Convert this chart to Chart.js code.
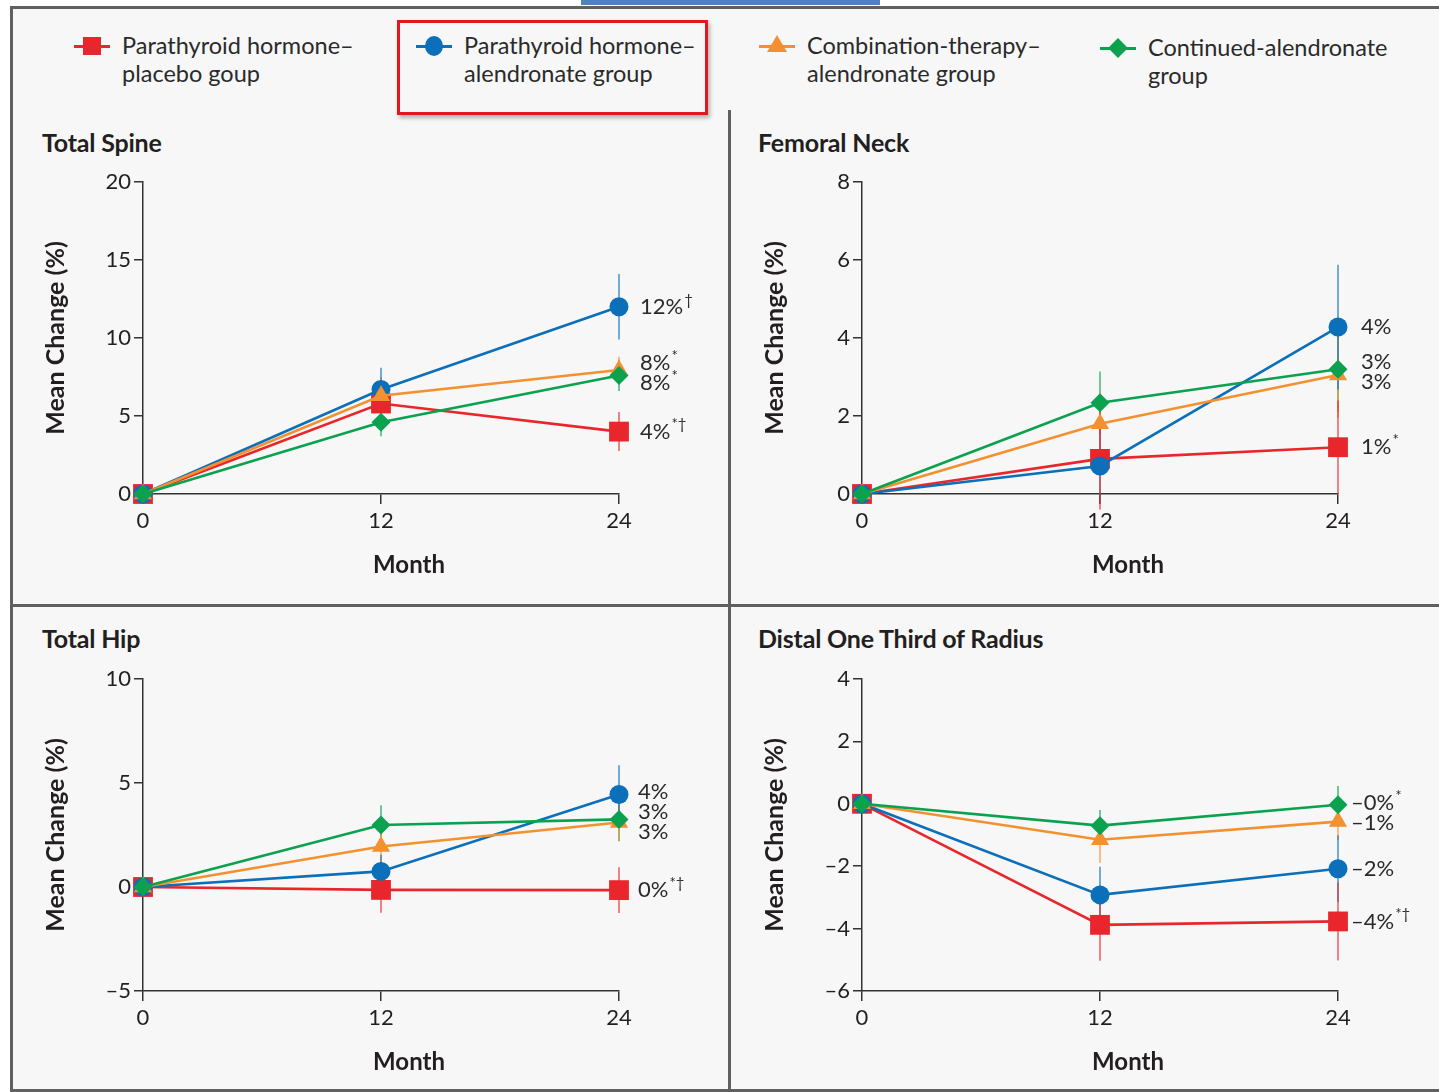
<!DOCTYPE html>
<html>
<head>
<meta charset="utf-8">
<script src="https://cdn.jsdelivr.net/npm/chart.js@4.4.1/dist/chart.umd.min.js"></script>
<style>
  html, body { margin: 0; padding: 0; background: #ffffff; overflow: hidden; }
  #page { position: relative; width: 1439px; height: 1092px; background: #ffffff;
          font-family: Lato, "Noto Sans", sans-serif; color: #231f20; }
  .abs { position: absolute; }
  #sheet { left: 10px; top: 6px; width: 1429px; height: 1086px; background: #f7f7f7; }
  .rule { position: absolute; background: #606060; }
  .legend-item { position: absolute; font-size: 23.5px; line-height: 28px; color: #2a2a2a; white-space: nowrap; }
  .mk-line { position: absolute; height: 3px; }
  .panel-title { position: absolute; font-size: 25px; font-weight: 700; color: #231f20; letter-spacing: -0.2px; white-space: nowrap; }
  canvas { position: absolute; }
</style>
</head>
<body>
<div id="page">
  <div class="abs" style="left:581px;top:0;width:299px;height:5px;background:#4f81bd;"></div>
  <div id="sheet" class="abs"></div>
  <!-- frame and panel dividers -->
  <div class="rule" style="left:10px;top:6px;width:1429px;height:3px;"></div>
  <div class="rule" style="left:10px;top:6px;width:3px;height:1086px;"></div>
  <div class="rule" style="left:728px;top:110px;width:3px;height:982px;"></div>
  <div class="rule" style="left:10px;top:604px;width:1429px;height:3px;"></div>
  <div class="rule" style="left:10px;top:1089px;width:1429px;height:3px;"></div>

  <!-- legend -->
  <div id="legend"></div>
  <div class="abs" style="left:397px;top:20px;width:311px;height:95px;box-sizing:border-box;border:3px solid #e5161d;box-shadow:2px 3px 4px rgba(0,0,0,0.28);"></div>

  <div class="panel-title" style="left:42px;top:127px;">Total Spine</div>
  <div class="panel-title" style="left:758px;top:127px;">Femoral Neck</div>
  <div class="panel-title" style="left:42px;top:623px;">Total Hip</div>
  <div class="panel-title" style="left:758px;top:623px;">Distal One Third of Radius</div>

  <canvas id="cSpine" width="700" height="436" style="left:20px;top:160px;"></canvas>
  <canvas id="cNeck" width="700" height="436" style="left:739px;top:160px;"></canvas>
  <canvas id="cHip" width="700" height="436" style="left:20px;top:657px;"></canvas>
  <canvas id="cRadius" width="700" height="436" style="left:739px;top:657px;"></canvas>
</div>

<script>
// ---- study visits (months) ----
const months = [0, 12, 24];

// ---- treatment groups ----
const groupNames = [
  ["Parathyroid hormone–", "placebo goup"],
  ["Parathyroid hormone–", "alendronate group"],
  ["Combination-therapy–", "alendronate group"],
  ["Continued-alendronate", "group"]
];
const groupColors = ["#e8262b", "#0b6fba", "#f39131", "#0aa14f"];
const groupMarkers = ["rect", "circle", "triangle", "rectRot"];

// ---- Total spine: mean change (%) and error ----
const spinePlacebo = [0, 5.8, 4.0];
const spineAlendronate = [0, 6.7, 12.0];
const spineCombination = [0, 6.3, 7.95];
const spineContinued = [0, 4.6, 7.6];
const spinePlaceboErr = [0, 1.5, 1.25];
const spineAlendronateErr = [0, 1.4, 2.1];
const spineCombinationErr = [0, 1.2, 0.85];
const spineContinuedErr = [0, 0.9, 1.0];
const spineLabels = ["4%", "12%", "8%", "8%"];
const spineMarks = ["*†", "†", "*", "*"];

// ---- Femoral neck ----
const neckPlacebo = [0, 0.9, 1.2];
const neckAlendronate = [0, 0.72, 4.28];
const neckCombination = [0, 1.8, 3.05];
const neckContinued = [0, 2.34, 3.2];
const neckPlaceboErr = [0, 1.3, 1.2];
const neckAlendronateErr = [0, 0.95, 1.6];
const neckCombinationErr = [0, 0.8, 1.1];
const neckContinuedErr = [0, 0.8, 1.1];
const neckLabels = ["1%", "4%", "3%", "3%"];
const neckMarks = ["*", "", "", ""];

// ---- Total hip ----
const hipPlacebo = [0, -0.14, -0.15];
const hipAlendronate = [0, 0.75, 4.45];
const hipCombination = [0, 1.95, 3.1];
const hipContinued = [0, 2.98, 3.25];
const hipPlaceboErr = [0, 1.1, 1.1];
const hipAlendronateErr = [0, 0.8, 1.4];
const hipCombinationErr = [0, 0.9, 0.9];
const hipContinuedErr = [0, 0.95, 1.05];
const hipLabels = ["0%", "4%", "3%", "3%"];
const hipMarks = ["*†", "", "", ""];

// ---- Distal one third of radius ----
const radiusPlacebo = [0, -3.88, -3.77];
const radiusAlendronate = [0, -2.92, -2.08];
const radiusCombination = [0, -1.15, -0.57];
const radiusContinued = [0, -0.7, -0.03];
const radiusPlaceboErr = [0, 1.15, 1.25];
const radiusAlendronateErr = [0, 0.9, 1.07];
const radiusCombinationErr = [0, 0.75, 0.6];
const radiusContinuedErr = [0, 0.5, 0.6];
const radiusLabels = ["–4%", "–2%", "–1%", "–0%"];
const radiusMarks = ["*†", "", "", "*"];

// ---- axis ticks ----
const monthTicks = [0, 12, 24];

const FONT = "Lato, 'Noto Sans', sans-serif";
const INK = "#231f20";
const AXIS = "#333333";

// legend built from the group lists
(function buildLegend() {
  const host = document.getElementById("legend");
  const slots = [{ x: 92, y: 46, tx: 122 }, { x: 434, y: 46, tx: 464 }, { x: 777, y: 46, tx: 807 }, { x: 1118, y: 48, tx: 1148 }];
  groupNames.forEach((lines, i) => {
    const s = slots[i], c = groupColors[i];
    const line = document.createElement("div");
    line.className = "mk-line";
    line.style.cssText = `left:${s.x - 18}px;top:${s.y - 1.5}px;width:36px;background:${c};`;
    host.appendChild(line);
    const m = document.createElement("div");
    m.className = "abs";
    const kind = groupMarkers[i];
    if (kind === "rect") m.style.cssText = `left:${s.x - 9}px;top:${s.y - 9}px;width:18px;height:18px;background:${c};`;
    if (kind === "circle") m.style.cssText = `left:${s.x - 9}px;top:${s.y - 10}px;width:18px;height:20px;border-radius:50%;background:${c};`;
    if (kind === "triangle") m.style.cssText = `left:${s.x - 10}px;top:${s.y - 11}px;width:0;height:0;border-left:10px solid transparent;border-right:10px solid transparent;border-bottom:17px solid ${c};`;
    if (kind === "rectRot") m.style.cssText = `left:${s.x - 7}px;top:${s.y - 7}px;width:14px;height:14px;background:${c};transform:rotate(45deg);`;
    host.appendChild(m);
    const t = document.createElement("div");
    t.className = "legend-item";
    t.style.left = s.tx + "px";
    t.style.top = (s.y - 15) + "px";
    t.innerHTML = lines.join("<br>");
    host.appendChild(t);
  });
})();

// vertical error bars drawn under the markers
const errorBarPlugin = {
  id: "errorBars",
  beforeDatasetsDraw(chart) {
    const { ctx } = chart;
    const y = chart.scales.y, x = chart.scales.x;
    ctx.save();
    chart.data.datasets.forEach((ds) => {
      ds.data.forEach((p, j) => {
        const e = ds.errors[j];
        if (!e) return;
        ctx.strokeStyle = ds.borderColor;
        ctx.globalAlpha = 0.75;
        ctx.lineWidth = 1.5;
        ctx.beginPath();
        ctx.moveTo(x.getPixelForValue(p.x), y.getPixelForValue(p.y + e));
        ctx.lineTo(x.getPixelForValue(p.x), y.getPixelForValue(p.y - e));
        ctx.stroke();
      });
    });
    ctx.restore();
  }
};

// "Month" caption under the time axis
const monthCaptionPlugin = {
  id: "monthCaption",
  afterDraw(chart) {
    const { ctx, chartArea } = chart;
    ctx.save();
    ctx.font = `bold 24px ${FONT}`;
    ctx.fillStyle = INK;
    ctx.textAlign = "center";
    ctx.textBaseline = "middle";
    ctx.fillText("Month", (chartArea.left + chartArea.right) / 2 + 28, chartArea.bottom + 71);
    ctx.restore();
  }
};

// end-of-study value labels, nudged apart when they collide
const endLabelPlugin = {
  id: "endLabels",
  afterDatasetsDraw(chart) {
    const { ctx, chartArea } = chart;
    const y = chart.scales.y;
    const items = chart.data.datasets.map((ds) => ({
      y: y.getPixelForValue(ds.data[ds.data.length - 1].y),
      text: ds.endLabel, mark: ds.endMark
    }));
    items.sort((a, b) => a.y - b.y);
    const gap = 20;
    for (let k = 0; k < 60; k++) {
      let moved = false;
      for (let i = 1; i < items.length; i++) {
        const d = items[i].y - items[i - 1].y;
        if (d < gap - 0.01) {
          const s = (gap - d) / 2;
          items[i].y += s; items[i - 1].y -= s; moved = true;
        }
      }
      if (!moved) break;
    }
    ctx.save();
    ctx.fillStyle = "#2a2a2a";
    ctx.textBaseline = "middle";
    ctx.textAlign = "left";
    const x0 = chartArea.right + chart.options.plugins.endLabels.offset;
    items.forEach((it) => {
      ctx.font = `22px ${FONT}`;
      ctx.fillText(it.text, x0, it.y);
      const w = ctx.measureText(it.text).width;
      if (it.mark) {
        ctx.font = `15px ${FONT}`;
        ctx.fillText(it.mark, x0 + w + 1, it.y - 7);
      }
    });
    ctx.restore();
  }
};

function makeDatasets(values, errors, labels, marks) {
  const radii = [14, 9.5, 10.5, 9.5];
  // drawn back to front: placebo, alendronate, combination, continued
  const idx = [3, 2, 1, 0];
  return idx.map((i) => ({
    label: groupNames[i].join(" "),
    data: months.map((m, j) => ({ x: m, y: values[i][j] })),
    errors: errors[i],
    endLabel: labels[i],
    endMark: marks[i],
    borderColor: groupColors[i],
    backgroundColor: groupColors[i],
    pointBackgroundColor: groupColors[i],
    pointBorderColor: groupColors[i],
    pointStyle: groupMarkers[i],
    pointRadius: radii[i],
    pointBorderWidth: 0,
    borderWidth: 2.6,
    tension: 0,
    clip: false
  }));
}

function makeChart(id, cfg) {
  const tickFont = { family: FONT, size: 22 };
  const titleFont = { family: FONT, size: 25, weight: "bold" };
  return new Chart(document.getElementById(id), {
    type: "line",
    data: { datasets: makeDatasets(cfg.values, cfg.errors, cfg.labels, cfg.marks) },
    options: {
      responsive: false,
      animation: false,
      devicePixelRatio: 1,
      layout: { padding: { left: 0, top: 22, right: 101, bottom: 2 } },
      plugins: { legend: { display: false }, tooltip: { enabled: false }, endLabels: { offset: cfg.labelOffset } },
      scales: {
        x: {
          type: "linear", min: 0, max: 24,
          afterFit: (s) => { s.height = 100; },
          afterBuildTicks: (s) => { s.ticks = monthTicks.map((v) => ({ value: v })); },
          ticks: { font: tickFont, color: INK, padding: 4, maxRotation: 0, autoSkip: false },
          grid: { drawOnChartArea: false, drawTicks: true, tickLength: 10, color: AXIS, lineWidth: 1.5 },
          border: { display: true, color: AXIS, width: 1.5 },
          title: { display: false }
        },
        y: {
          min: cfg.min, max: cfg.max,
          afterFit: (s) => { s.width = 123; },
          afterBuildTicks: (s) => { s.ticks = cfg.ticks.map((v) => ({ value: v })); },
          ticks: { font: tickFont, color: INK, padding: 3, callback: (v) => (v < 0 ? "–" + Math.abs(v) : String(v)) },
          grid: { drawOnChartArea: false, drawTicks: true, tickLength: 9, color: AXIS, lineWidth: 1.5 },
          border: { display: true, color: AXIS, width: 1.5 },
          title: { display: true, text: "Mean Change (%)", font: titleFont, color: INK, padding: { top: 21, bottom: 0 } }
        }
      }
    },
    plugins: [errorBarPlugin, endLabelPlugin, monthCaptionPlugin]
  });
}

makeChart("cSpine", {
  min: 0, max: 20, ticks: [0, 5, 10, 15, 20], labelOffset: 21,
  values: [spinePlacebo, spineAlendronate, spineCombination, spineContinued],
  errors: [spinePlaceboErr, spineAlendronateErr, spineCombinationErr, spineContinuedErr],
  labels: spineLabels, marks: spineMarks
});
makeChart("cNeck", {
  min: 0, max: 8, ticks: [0, 2, 4, 6, 8], labelOffset: 23,
  values: [neckPlacebo, neckAlendronate, neckCombination, neckContinued],
  errors: [neckPlaceboErr, neckAlendronateErr, neckCombinationErr, neckContinuedErr],
  labels: neckLabels, marks: neckMarks
});
makeChart("cHip", {
  min: -5, max: 10, ticks: [-5, 0, 5, 10], labelOffset: 19,
  values: [hipPlacebo, hipAlendronate, hipCombination, hipContinued],
  errors: [hipPlaceboErr, hipAlendronateErr, hipCombinationErr, hipContinuedErr],
  labels: hipLabels, marks: hipMarks
});
makeChart("cRadius", {
  min: -6, max: 4, ticks: [-6, -4, -2, 0, 2, 4], labelOffset: 13,
  values: [radiusPlacebo, radiusAlendronate, radiusCombination, radiusContinued],
  errors: [radiusPlaceboErr, radiusAlendronateErr, radiusCombinationErr, radiusContinuedErr],
  labels: radiusLabels, marks: radiusMarks
});
</script>
</body>
</html>
